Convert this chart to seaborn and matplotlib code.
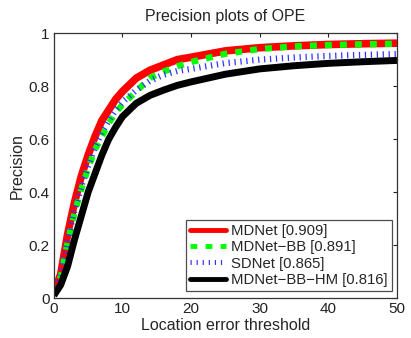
import numpy as np
import pandas as pd
import matplotlib
matplotlib.use("Agg")
import matplotlib.pyplot as plt
import seaborn as sns
from matplotlib.lines import Line2D

thresholds = [0, 1, 2, 3, 4, 5, 6, 7, 8, 9, 10, 12, 14, 16, 18, 20, 25, 30, 35, 40, 45, 50]
mdnet = [0.02, 0.09, 0.24, 0.36, 0.46, 0.54, 0.61, 0.67, 0.71, 0.75, 0.78, 0.83, 0.86, 0.88, 0.90, 0.909, 0.933, 0.945, 0.952, 0.957, 0.960, 0.962]
mdnet_bb = [0.02, 0.08, 0.21, 0.32, 0.41, 0.49, 0.56, 0.61, 0.66, 0.70, 0.73, 0.78, 0.83, 0.855, 0.875, 0.891, 0.922, 0.940, 0.950, 0.955, 0.958, 0.960]
sdnet = [0.02, 0.085, 0.22, 0.33, 0.42, 0.50, 0.57, 0.625, 0.67, 0.71, 0.74, 0.785, 0.82, 0.843, 0.857, 0.865, 0.887, 0.900, 0.908, 0.914, 0.918, 0.921]
mdnet_bb_hm = [0.01, 0.05, 0.12, 0.22, 0.31, 0.40, 0.47, 0.54, 0.60, 0.645, 0.685, 0.735, 0.765, 0.785, 0.803, 0.816, 0.845, 0.865, 0.877, 0.886, 0.892, 0.897]
labels = ["MDNet [0.909]", "MDNet-BB [0.891]", "SDNet [0.865]", "MDNet-BB-HM [0.816]"]
legend_labels = ["MDNet [0.909]", "MDNet\u2212BB [0.891]", "SDNet [0.865]", "MDNet\u2212BB\u2212HM [0.816]"]

sns.set_style("white")
plt.rcParams['font.family'] = ['Liberation Sans', 'DejaVu Sans']

df = pd.DataFrame({
    "threshold": thresholds * 4,
    "precision": mdnet + mdnet_bb + sdnet + mdnet_bb_hm,
    "method": sum([[l] * len(thresholds) for l in labels], []),
})

colors = ["#ff0000", "#00ff00", "#3333ff", "#000000"]
styles = [
    dict(lw=5.5, ls="-"),
    dict(lw=4.5, ls=(0, (1.1, 1.3))),
    dict(lw=4.5, ls=(0, (0.2, 0.75))),
    dict(lw=5.0, ls="-"),
]

fig = plt.figure(figsize=(4.11, 3.38), dpi=100)
ax = fig.add_axes([0.131, 0.118, 0.835, 0.784])

for lab, col, st in zip(labels, colors, styles):
    sub = df[df["method"] == lab]
    sns.lineplot(data=sub, x="threshold", y="precision", ax=ax, color=col,
                 linewidth=st["lw"], linestyle=st["ls"], legend=False,
                 solid_capstyle="butt", dash_capstyle="butt",
                 solid_joinstyle="round", dash_joinstyle="round")

ax.set_xlim(0, 50)
ax.set_ylim(0, 1)
ax.set_xticks([0, 10, 20, 30, 40, 50])
ax.set_yticks([0, 0.2, 0.4, 0.6, 0.8, 1])
ax.set_yticklabels(["0", "0.2", "0.4", "0.6", "0.8", "1"])
ax.tick_params(direction="in", length=3, width=0.8, labelsize=11, colors="#222222",
               top=True, right=True, pad=3)
for sp in ax.spines.values():
    sp.set_visible(True)
    sp.set_color("#333333")
    sp.set_linewidth(0.9)
ax.set_xlabel("Location error threshold", fontsize=11.5, labelpad=1)
ax.set_ylabel("Precision", fontsize=11.5, labelpad=3)
ax.set_title("Precision plots of OPE", fontsize=11.5, pad=9)

handles = [
    Line2D([], [], color=colors[0], lw=3.5, ls="-"),
    Line2D([], [], color=colors[1], lw=3.5, ls=(0, (1.4, 1.7))),
    Line2D([], [], color=colors[2], lw=3.5, ls=(0, (0.25, 1.0))),
    Line2D([], [], color=colors[3], lw=3.5, ls="-"),
]
leg = ax.legend(handles, legend_labels, loc="lower right", fontsize=10.7,
                frameon=True, fancybox=False, edgecolor="#222222",
                handlelength=2.4, handletextpad=0.35, labelspacing=0.15,
                borderpad=0.3, borderaxespad=0.0, bbox_to_anchor=(0.985, 0.026))
leg.get_frame().set_linewidth(0.9)

fig.savefig("out.png", dpi=100)
